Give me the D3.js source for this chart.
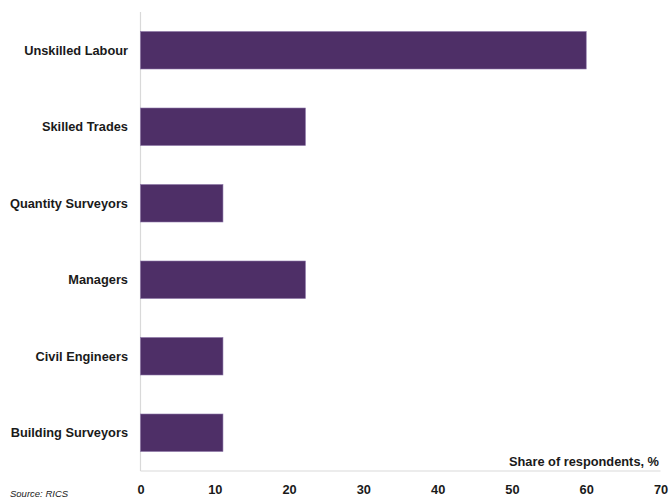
<!DOCTYPE html>
<html>
<head>
<meta charset="utf-8">
<script src="https://cdn.jsdelivr.net/npm/d3@7/dist/d3.min.js"></script>
<style>
  html, body { margin: 0; padding: 0; background: #fff; }
  svg { display: block; font-family: "Liberation Sans", Arial, sans-serif; }
</style>
</head>
<body>
<svg id="chart" width="670" height="502"></svg>
<script>
// Skills shortages reported, share of respondents (%)
const categories = [
  "Unskilled Labour",
  "Skilled Trades",
  "Quantity Surveyors",
  "Managers",
  "Civil Engineers",
  "Building Surveyors"
];
const values = [60, 22.2, 11.1, 22.2, 11.1, 11.1];
const xTicks = [0, 10, 20, 30, 40, 50, 60, 70];
const axisTitle = "Share of respondents, %";
const sourceNote = "Source: RICS";

const svg = d3.select("#chart");
const margin = { left: 140.5, right: 9.5, top: 12, bottom: 31 };
const W = 670, H = 502;

const x = d3.scaleLinear().domain([0, 70]).range([margin.left, W - margin.right]);
const y = d3.scaleBand().domain(categories).range([margin.top, H - margin.bottom]).paddingInner(0.51).paddingOuter(0.255);

// Axis lines
svg.append("line")
  .attr("x1", x(0)).attr("x2", x(0))
  .attr("y1", margin.top).attr("y2", H - margin.bottom)
  .attr("stroke", "#d9d9d9").attr("stroke-width", 1.2);
svg.append("line")
  .attr("x1", x(0)).attr("x2", x(70))
  .attr("y1", H - margin.bottom).attr("y2", H - margin.bottom)
  .attr("stroke", "#d9d9d9").attr("stroke-width", 1.2);

// Bars
svg.append("g").selectAll("rect")
  .data(categories)
  .join("rect")
  .attr("x", x(0))
  .attr("y", d => y(d))
  .attr("width", (d, i) => x(values[i]) - x(0))
  .attr("height", y.bandwidth())
  .attr("fill", "#4e2f67")
  .attr("stroke", "#8a73a6")
  .attr("stroke-width", 0.6);

// Category labels
svg.append("g").selectAll("text")
  .data(categories)
  .join("text")
  .attr("x", 128)
  .attr("y", d => y(d) + y.bandwidth() / 2)
  .attr("dy", "0.35em")
  .attr("text-anchor", "end")
  .attr("font-size", 12.8)
  .attr("font-weight", "bold")
  .attr("fill", "#1a1a1a")
  .text(d => d);

// X tick labels
const xAxis = d3.axisBottom(x).tickValues(xTicks).tickSize(0).tickPadding(0);
const gx = svg.append("g")
  .attr("transform", `translate(0,${H - margin.bottom})`)
  .call(xAxis);
gx.select(".domain").remove();
gx.selectAll("text")
  .attr("y", 19)
  .attr("dy", "0.35em")
  .attr("font-size", 12.8)
  .attr("font-weight", "bold")
  .attr("font-family", "Liberation Sans, Arial, sans-serif")
  .attr("fill", "#1a1a1a");

// Axis title
svg.append("text")
  .attr("x", 659)
  .attr("y", 466)
  .attr("text-anchor", "end")
  .attr("font-size", 12.8)
  .attr("font-weight", "bold")
  .attr("fill", "#1a1a1a")
  .text(axisTitle);

// Source
svg.append("text")
  .attr("x", 10)
  .attr("y", 497)
  .attr("font-size", 9.5)
  .attr("font-style", "italic")
  .attr("fill", "#1a1a1a")
  .text(sourceNote);
</script>
</body>
</html>
